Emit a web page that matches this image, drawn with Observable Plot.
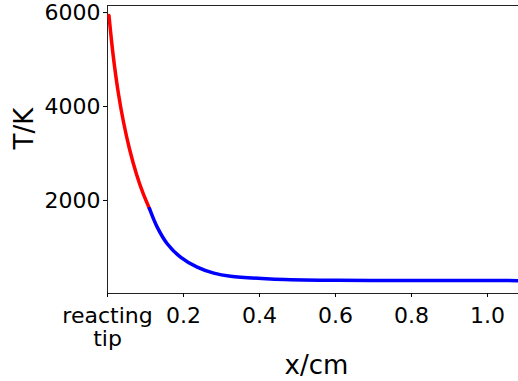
<!DOCTYPE html>
<html>
<head>
<meta charset="utf-8">
<script src="https://cdn.jsdelivr.net/npm/d3@7"></script>
<script src="https://cdn.jsdelivr.net/npm/@observablehq/plot@0.6"></script>
<style>
  html, body { margin: 0; padding: 0; background: #fff; }
  #chart svg { display: block; }
</style>
</head>
<body>
<div id="chart"></div>
<script>
// Reacting-tip segment (red)
const xRed = [0.0039, 0.0105, 0.0184, 0.0289, 0.0421, 0.0579, 0.0763, 0.0947, 0.1105];
const tRed = [5936, 5404, 4862, 4266, 3670, 3096, 2559, 2128, 1825];
// Remaining segment (blue)
const xBlue = [0.1105, 0.1308, 0.1571, 0.1921, 0.2361, 0.2797, 0.3237, 0.4289, 0.5605, 0.6921, 0.85, 1.0816];
const tBlue = [1825, 1432, 1079, 795, 581, 453, 387, 330, 304, 298, 296, 294];

const xTicks = [0, 0.2, 0.4, 0.6, 0.8, 1.0];
const xTickLabels = ["reacting\ntip", "0.2", "0.4", "0.6", "0.8", "1.0"];
const yTicks = [2000, 4000, 6000];
const xDomain = [0, 1.0816];
const yDomain = [20, 6150];
const xLabel = "x/cm";
const yLabel = "T/K";

const red = xRed.map((x, i) => ({x, t: tRed[i]}));
const blue = xBlue.map((x, i) => ({x, t: tBlue[i]}));

const chart = Plot.plot({
  width: 518,
  height: 381,
  marginLeft: 107,
  marginRight: 0,
  marginTop: 5,
  marginBottom: 88,
  style: {fontFamily: "DejaVu Sans", background: "#fff", color: "#000", overflow: "visible"},
  x: {domain: xDomain},
  y: {domain: yDomain},
  marks: [
    Plot.ruleX([xDomain[0]], {stroke: "#222", strokeWidth: 1}),
    Plot.ruleY([yDomain[0]], {stroke: "#222", strokeWidth: 1}),
    Plot.ruleY([yDomain[1]], {stroke: "#222", strokeWidth: 1}),
    Plot.line(red, {x: "x", y: "t", stroke: "#ff0000", strokeWidth: 3.5, curve: "catmull-rom"}),
    Plot.line(blue, {x: "x", y: "t", stroke: "#0000ff", strokeWidth: 3.5, curve: "catmull-rom"}),
    Plot.axisX({
      ticks: xTicks,
      tickFormat: (d) => xTickLabels[xTicks.indexOf(d)],
      tickSize: 4,
      tickPadding: 9,
      fontSize: 22,
      lineHeight: 1.05,
      label: null
    }),
    Plot.axisY({
      ticks: yTicks,
      tickFormat: (d) => String(d),
      tickSize: 4,
      tickPadding: 3,
      fontSize: 22,
      label: null
    }),
    Plot.text([yLabel], {frameAnchor: "left", dx: -83, rotate: -90, fontSize: 26, lineAnchor: "middle", fill: "#000"}),
    Plot.text([xLabel], {frameAnchor: "bottom", dx: 3.5, dy: 72, fontSize: 26, lineAnchor: "middle", fill: "#000"})
  ]
});
document.getElementById("chart").appendChild(chart);
</script>
</body>
</html>
